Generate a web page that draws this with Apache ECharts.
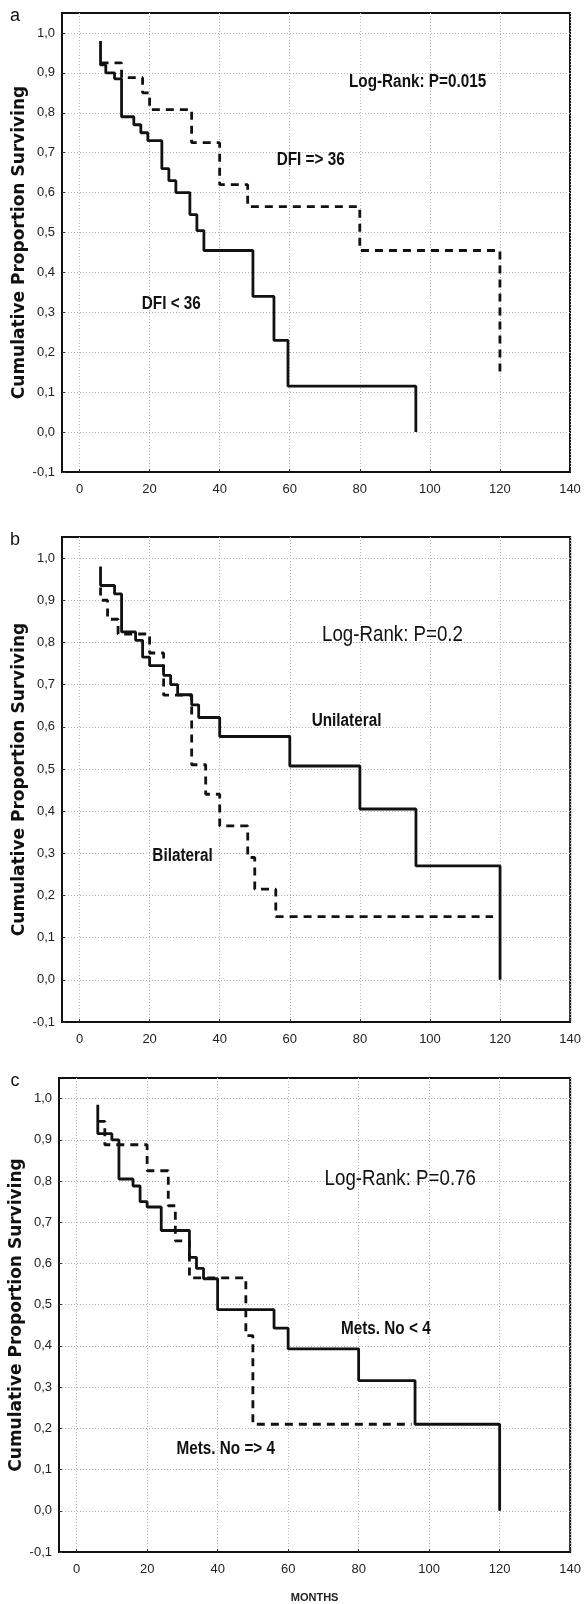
<!DOCTYPE html>
<html>
<head>
<meta charset="utf-8">
<script src="https://cdn.jsdelivr.net/npm/echarts@6/dist/echarts.min.js"></script>
<style>
html,body{margin:0;padding:0;background:#fff;}
#main{width:584px;height:1604px;}
</style>
</head>
<body>
<div id="main"></div>
<script>
// tick labels
var xTicks = [0, 20, 40, 60, 80, 100, 120, 140];
var yTicks = [-0.1, 0, 0.1, 0.2, 0.3, 0.4, 0.5, 0.6, 0.7, 0.8, 0.9, 1.0];

// panel a : DFI
var dfiLtTimes = [6, 6, 7.5, 10, 12, 15.5, 17.5, 19.5, 23.5, 25.5, 27.5, 31.5, 33.5, 35.5, 49.5, 55.5, 59.5, 96];
var dfiLtSurv  = [0.98, 0.92, 0.90, 0.885, 0.79, 0.77, 0.75, 0.73, 0.66, 0.63, 0.60, 0.545, 0.505, 0.455, 0.34, 0.23, 0.115, 0.0];
var dfiGeTimes = [6, 12, 18, 20, 32, 40, 48, 80, 120];
var dfiGeSurv  = [0.925, 0.888, 0.85, 0.808, 0.725, 0.62, 0.565, 0.455, 0.15];

// panel b : unilateral / bilateral
var uniTimes = [6, 6, 10, 12, 16, 18, 20, 24, 26, 28, 32, 34, 40, 60, 80, 96, 120];
var uniSurv  = [0.98, 0.935, 0.915, 0.825, 0.805, 0.765, 0.745, 0.722, 0.70, 0.676, 0.652, 0.622, 0.577, 0.507, 0.405, 0.27, 0.0];
var biTimes  = [6, 6, 8, 11, 20, 24, 32, 36, 40, 48, 50, 56, 118];
var biSurv   = [0.93, 0.90, 0.855, 0.82, 0.775, 0.675, 0.51, 0.44, 0.365, 0.29, 0.215, 0.15, 0.15];

// panel c : number of metastases
var metsLtTimes = [6, 6, 10, 12, 16, 18, 20, 24, 32, 34, 36, 40, 56, 60, 80, 96, 120];
var metsLtSurv  = [0.985, 0.915, 0.90, 0.805, 0.788, 0.75, 0.737, 0.68, 0.615, 0.588, 0.563, 0.488, 0.443, 0.393, 0.316, 0.21, 0.0];
var metsGeTimes = [6, 8, 20, 26, 28, 32, 48, 50, 95];
var metsGeSurv  = [0.945, 0.888, 0.825, 0.74, 0.655, 0.565, 0.425, 0.21, 0.21];

// annotations: [grid, x, y, text, size, weight]
var notes = [
	[0, 96.5, 0.878, 'Log-Rank: P=0.015', 18, 'bold'],
	[0, 66, 0.682, 'DFI => 36', 18, 'bold'],
	[0, 26.2, 0.322, 'DFI < 36', 18, 'bold'],
	[1, 89.3, 0.818, 'Log-Rank: P=0.2', 22, 'normal'],
	[1, 76.2, 0.613, 'Unilateral', 18, 'bold'],
	[1, 29.4, 0.294, 'Bilateral', 18, 'bold'],
	[2, 91.8, 0.804, 'Log-Rank: P=0.76', 22, 'normal'],
	[2, 87.7, 0.442, 'Mets. No < 4', 18, 'bold'],
	[2, 42.3, 0.15, 'Mets. No => 4', 18, 'bold']
];
var panelLetters = ['a', 'b', 'c'];

var narrow = '"Liberation Sans Narrow", "Arial Narrow", "Liberation Sans", sans-serif';

function pairs(t, s){
	var arr = [];
	for (var i = 0; i < t.length; i++) {
		arr.push([t[i], s[i]]);
	}
	return arr;
}

var grids = [
	{left: 62, top: 13, width: 508, height: 459},
	{left: 62, top: 537, width: 513, height: 485},
	{left: 59, top: 1078, width: 514, height: 475}
];

var xAxes = [], yAxes = [], series = [];
for (var g = 0; g < 3; g++) {
	grids[g].show = true;
	grids[g].borderColor = '#111';
	grids[g].borderWidth = 2;
	grids[g].backgroundColor = '#fff';
	xAxes.push({
		type: 'value', gridIndex: g, min: -5, max: 140,
		axisLine: {show: true, onZero: false, lineStyle: {color: '#111', width: 2}},
		axisTick: {show: true, inside: true, length: 3, customValues: xTicks, lineStyle: {color: '#333'}},
		axisLabel: {customValues: xTicks, margin: 11, fontFamily: narrow, fontSize: 13, color: '#222'},
		splitLine: {show: true, lineStyle: {color: '#b4b4b4', type: [1, 2], width: 1}},
		name: g == 2 ? 'MONTHS' : '',
		nameLocation: 'middle', nameGap: 40, nameMoveOverlap: false,
		nameTextStyle: {fontFamily: narrow, fontWeight: 'bold', fontSize: 11, color: '#222'}
	});
	yAxes.push({
		type: 'value', gridIndex: g, min: -0.1, max: 1.05,
		axisLine: {show: true, onZero: false, lineStyle: {color: '#111', width: 2}},
		axisTick: {show: true, inside: true, length: 3, customValues: yTicks, lineStyle: {color: '#333'}},
		axisLabel: {
			customValues: yTicks, margin: 7, fontFamily: narrow, fontSize: 13, color: '#222',
			formatter: function(v){ return v.toFixed(1).replace('.', ','); }
		},
		splitLine: {show: true, lineStyle: {color: '#b4b4b4', type: [1, 2], width: 1}},
		name: 'Cumulative Proportion Surviving',
		nameLocation: 'middle', nameRotate: 90, nameGap: 34, nameMoveOverlap: false,
		nameTextStyle: {fontFamily: '"DejaVu Sans", Verdana, sans-serif', fontWeight: 'bold', fontSize: 17, color: '#111'}
	});
}

function km(g, t, s, dashed){
	return {
		type: 'line', xAxisIndex: g, yAxisIndex: g, step: 'end',
		data: pairs(t, s), symbol: 'none', silent: true,
		lineStyle: {color: '#111', width: 2.8, type: dashed ? [8, 6] : 'solid'}
	};
}
series.push(km(0, dfiGeTimes, dfiGeSurv, true));
series.push(km(0, dfiLtTimes, dfiLtSurv, false));
series.push(km(1, biTimes, biSurv, true));
series.push(km(1, uniTimes, uniSurv, false));
series.push(km(2, metsGeTimes, metsGeSurv, true));
series.push(km(2, metsLtTimes, metsLtSurv, false));

var myChart = echarts.init(document.getElementById('main'), null, {renderer: 'canvas'});
option = {
	animation: false,
	backgroundColor: '#fff',
	grid: grids,
	xAxis: xAxes,
	yAxis: yAxes,
	series: series
};
myChart.setOption(option);

// text placed through the axes, squeezed to look like a narrow face
var graphics = [];
for (var i = 0; i < notes.length; i++) {
	var n = notes[i];
	var p = myChart.convertToPixel({gridIndex: n[0]}, [n[1], n[2]]);
	graphics.push({
		type: 'text', x: p[0], y: p[1], scaleX: 0.85, silent: true,
		style: {text: n[3], fontFamily: narrow, fontSize: n[4], fontWeight: n[5], fill: '#111', align: 'center', verticalAlign: 'middle'}
	});
}
for (var j = 0; j < 3; j++) {
	graphics.push({
		type: 'text', x: 15, y: grids[j].top + 3, silent: true,
		style: {text: panelLetters[j], fontFamily: '"Liberation Sans", Arial, sans-serif', fontSize: 18, fill: '#111', align: 'center', verticalAlign: 'middle'}
	});
}
myChart.setOption({graphic: graphics});
</script>
</body>
</html>
